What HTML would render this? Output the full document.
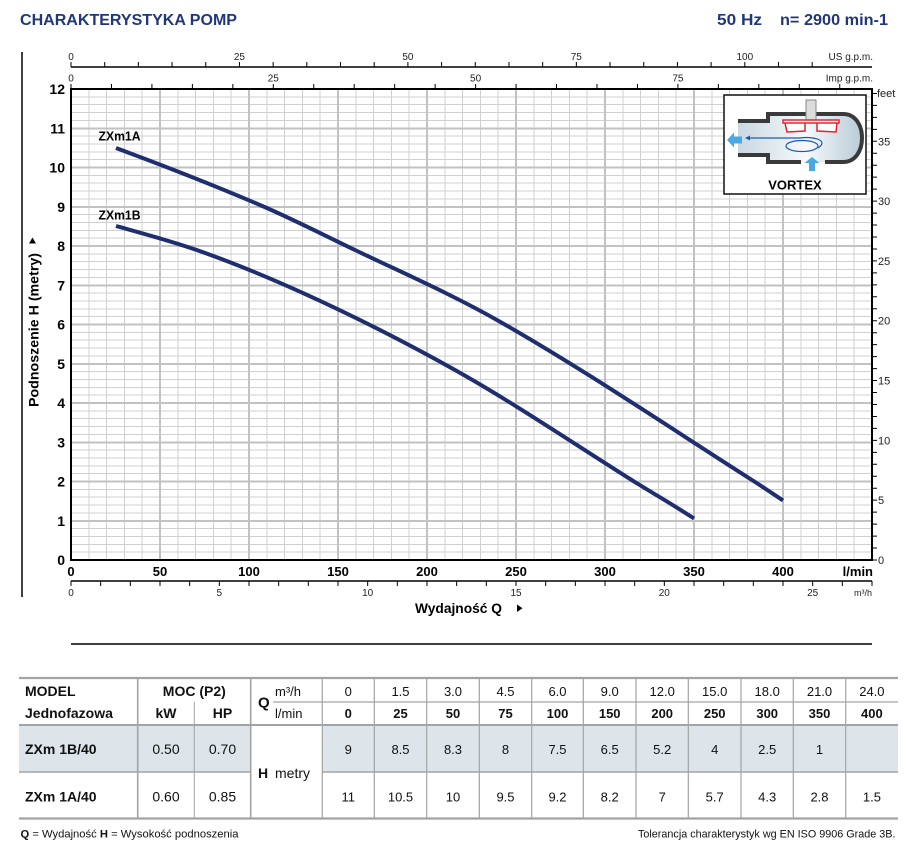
<!DOCTYPE html>
<html><head><meta charset="utf-8"><style>
html,body{margin:0;padding:0;background:#fff;}
svg{display:block;font-family:"Liberation Sans",Arial,sans-serif;}
</style></head><body>
<svg width="906" height="854" viewBox="0 0 906 854" xmlns="http://www.w3.org/2000/svg">
<defs>
<linearGradient id="cg" x1="0" x2="1" y1="0" y2="0">
<stop offset="0" stop-color="#c9d8e2"/><stop offset="0.55" stop-color="#f6f9fb"/><stop offset="1" stop-color="#b8cbd7"/>
</linearGradient>
</defs>
<!-- Title -->
<text x="20" y="25" font-size="16" font-weight="bold" fill="#22377a" textLength="217" lengthAdjust="spacingAndGlyphs">CHARAKTERYSTYKA POMP</text>
<text x="717" y="25" font-size="16" font-weight="bold" fill="#22377a" textLength="45" lengthAdjust="spacingAndGlyphs">50 Hz</text>
<text x="780" y="25" font-size="16" font-weight="bold" fill="#22377a" textLength="108" lengthAdjust="spacingAndGlyphs">n= 2900 min-1</text>

<!-- left vertical line -->
<line x1="22" y1="52" x2="22" y2="597" stroke="#000" stroke-width="1.5"/>

<!-- grid -->
<g shape-rendering="crispEdges">
<path stroke="#d0d0d0" stroke-width="1" fill="none" d="M88.8 89V560M106.6 89V560M124.4 89V560M142.2 89V560M177.8 89V560M195.6 89V560M213.4 89V560M231.2 89V560M266.8 89V560M284.6 89V560M302.4 89V560M320.2 89V560M355.8 89V560M373.6 89V560M391.4 89V560M409.2 89V560M444.8 89V560M462.6 89V560M480.4 89V560M498.2 89V560M533.8 89V560M551.6 89V560M569.4 89V560M587.2 89V560M622.8 89V560M640.6 89V560M658.4 89V560M676.2 89V560M711.8 89V560M729.6 89V560M747.4 89V560M765.2 89V560M800.8 89V560M818.6 89V560M836.4 89V560M854.2 89V560
M71 552.15H872M71 544.3H872M71 536.45H872M71 528.6H872M71 512.9H872M71 505.05H872M71 497.2H872M71 489.35H872M71 473.65H872M71 465.8H872M71 457.95H872M71 450.1H872M71 434.4H872M71 426.55H872M71 418.7H872M71 410.85H872M71 395.15H872M71 387.3H872M71 379.45H872M71 371.6H872M71 355.9H872M71 348.05H872M71 340.2H872M71 332.35H872M71 316.65H872M71 308.8H872M71 300.95H872M71 293.1H872M71 277.4H872M71 269.55H872M71 261.7H872M71 253.85H872M71 238.15H872M71 230.3H872M71 222.45H872M71 214.6H872M71 198.9H872M71 191.05H872M71 183.2H872M71 175.35H872M71 159.65H872M71 151.8H872M71 143.95H872M71 136.1H872M71 120.4H872M71 112.55H872M71 104.7H872M71 96.85H872"/>
<path stroke="#c2c2c2" stroke-width="2" fill="none" d="M160 89V560M249 89V560M338 89V560M427 89V560M516 89V560M605 89V560M694 89V560M783 89V560
M71 520.75H872M71 481.5H872M71 442.25H872M71 403H872M71 363.75H872M71 324.5H872M71 285.25H872M71 246H872M71 206.75H872M71 167.5H872M71 128.25H872"/>
</g>

<!-- plot frame -->
<rect x="71" y="89" width="801" height="471" fill="none" stroke="#000" stroke-width="2"/>

<!-- top US gpm axis -->
<line x1="71" y1="67" x2="872" y2="67" stroke="#000" stroke-width="1.5"/>
<path stroke="#000" stroke-width="1" d="M71 62V67M104.69 62V67M138.38 62V67M172.07 62V67M205.76 62V67M239.45 62V67M273.14 62V67M306.83 62V67M340.52 62V67M374.21 62V67M407.9 62V67M441.59 62V67M475.28 62V67M508.97 62V67M542.66 62V67M576.35 62V67M610.04 62V67M643.73 62V67M677.42 62V67M711.11 62V67M744.8 62V67M778.49 62V67M812.18 62V67"/>
<g font-size="10" fill="#222" text-anchor="middle">
<text x="71" y="60">0</text><text x="239.4" y="60">25</text><text x="407.9" y="60">50</text><text x="576.3" y="60">75</text><text x="744.8" y="60">100</text>
</g>
<text x="873" y="60" font-size="10" fill="#222" text-anchor="end">US g.p.m.</text>

<!-- Imp gpm axis -->
<path stroke="#000" stroke-width="1" d="M71 84V89M111.46 84V89M151.92 84V89M192.38 84V89M232.84 84V89M273.3 84V89M313.76 84V89M354.22 84V89M394.68 84V89M435.14 84V89M475.6 84V89M516.06 84V89M556.52 84V89M596.98 84V89M637.44 84V89M677.9 84V89M718.36 84V89M758.82 84V89M799.28 84V89M839.74 84V89"/>
<g font-size="10" fill="#222" text-anchor="middle">
<text x="71" y="81.5">0</text><text x="273.3" y="81.5">25</text><text x="475.6" y="81.5">50</text><text x="677.9" y="81.5">75</text>
</g>
<text x="873" y="81.5" font-size="10" fill="#222" text-anchor="end">Imp g.p.m.</text>

<!-- left y labels -->
<g font-size="14" font-weight="bold" fill="#000" text-anchor="end">
<text x="65" y="565">0</text><text x="65" y="525.75">1</text><text x="65" y="486.5">2</text><text x="65" y="447.25">3</text><text x="65" y="408">4</text><text x="65" y="368.75">5</text><text x="65" y="329.5">6</text><text x="65" y="290.25">7</text><text x="65" y="251">8</text><text x="65" y="211.75">9</text><text x="65" y="172.5">10</text><text x="65" y="133.25">11</text><text x="65" y="94">12</text>
</g>

<!-- y axis title -->
<text transform="translate(38.5,407) rotate(-90)" font-size="14" font-weight="bold" fill="#000" textLength="154" lengthAdjust="spacingAndGlyphs">Podnoszenie H (metry)</text>
<polygon points="29,243.5 36,243.5 32.5,237.5" fill="#000"/>

<!-- right feet axis -->
<path stroke="#000" stroke-width="1" d="M872 560h5M872 548.04h5M872 536.07h5M872 524.11h5M872 512.15h5M872 500.18h5M872 488.22h5M872 476.26h5M872 464.3h5M872 452.33h5M872 440.37h5M872 428.41h5M872 416.44h5M872 404.48h5M872 392.52h5M872 380.55h5M872 368.59h5M872 356.63h5M872 344.67h5M872 332.7h5M872 320.74h5M872 308.78h5M872 296.81h5M872 284.85h5M872 272.89h5M872 260.93h5M872 248.96h5M872 237h5M872 225.04h5M872 213.07h5M872 201.11h5M872 189.15h5M872 177.18h5M872 165.22h5M872 153.26h5M872 141.3h5M872 129.33h5M872 117.37h5M872 105.41h5M872 93.44h5"/>
<g font-size="11" fill="#222">
<text x="878" y="564">0</text><text x="878" y="504.2">5</text><text x="878" y="444.4">10</text><text x="878" y="384.6">15</text><text x="878" y="324.7">20</text><text x="878" y="264.9">25</text><text x="878" y="205.1">30</text><text x="878" y="145.3">35</text><text x="877" y="97">feet</text>
</g>

<!-- bottom l/min labels -->
<g font-size="13" font-weight="bold" fill="#000" text-anchor="middle">
<text x="71" y="576">0</text><text x="160" y="576">50</text><text x="249" y="576">100</text><text x="338" y="576">150</text><text x="427" y="576">200</text><text x="516" y="576">250</text><text x="605" y="576">300</text><text x="694" y="576">350</text><text x="783" y="576">400</text>
</g>
<text x="873" y="576" font-size="13" font-weight="bold" text-anchor="end">l/min</text>

<!-- m3/h axis -->
<line x1="71" y1="581" x2="872" y2="581" stroke="#000" stroke-width="1.5"/>
<path stroke="#000" stroke-width="1" d="M71 581V586M100.67 581V586M130.33 581V586M160 581V586M189.67 581V586M219.33 581V586M249 581V586M278.67 581V586M308.33 581V586M338 581V586M367.67 581V586M397.33 581V586M427 581V586M456.67 581V586M486.33 581V586M516 581V586M545.67 581V586M575.33 581V586M605 581V586M634.67 581V586M664.33 581V586M694 581V586M723.67 581V586M753.33 581V586M783 581V586M812.67 581V586M842.33 581V586M872 581V586"/>
<g font-size="10" fill="#222" text-anchor="middle">
<text x="71" y="596">0</text><text x="219.3" y="596">5</text><text x="367.7" y="596">10</text><text x="516" y="596">15</text><text x="664.3" y="596">20</text><text x="812.7" y="596">25</text>
</g>
<text x="872" y="596" font-size="9" fill="#222" text-anchor="end">m³/h</text>

<!-- x axis title -->
<text x="415" y="613" font-size="14" font-weight="bold" fill="#000" textLength="87" lengthAdjust="spacingAndGlyphs">Wydajność Q</text>
<polygon points="517,604.5 517,612 522.5,608.2" fill="#000"/>

<line x1="71" y1="644" x2="872" y2="644" stroke="#000" stroke-width="1.5"/>

<!-- curves -->
<path fill="none" stroke="#1e2e6e" stroke-width="4" d="M116 148 C164.5 166 212.2 184.5 260 205 C291.7 218.6 323.3 234.8 355 250 C403.3 273.2 451.7 294.2 500 321.7 C583.9 369.5 668.1 426.5 752 480 C762.4 486.7 772.6 493.6 783 500.5"/>
<path fill="none" stroke="#1e2e6e" stroke-width="4" d="M116 226 C143.4 233.5 170 240.7 196.7 250 C231.1 262 265.6 276.2 300 291.7 C351.7 315 403.3 341.1 455 370 C513.9 403 572.8 442.9 631.7 480 C652.5 493.1 673.2 504.8 694 518.5"/>
<text x="98.5" y="140.7" font-size="13" font-weight="bold" textLength="42" lengthAdjust="spacingAndGlyphs">ZXm1A</text>
<text x="98.5" y="219.5" font-size="13" font-weight="bold" textLength="42" lengthAdjust="spacingAndGlyphs">ZXm1B</text>

<!-- vortex icon -->
<rect x="724" y="95" width="142" height="99" fill="#fff" stroke="#111" stroke-width="1.5"/>
<path d="M738 121 H768 V114 H843 C856 114 862 126 862 138 C862 150 856 162 843 162 H768 V155 H738 Z" fill="url(#cg)"/>
<path d="M738 121 H768 V114 H843 C856 114 862 126 862 138 C862 150 856 162 843 162 H825" fill="none" stroke="#3a3a3a" stroke-width="4"/>
<path d="M738 155 H768 V162 H801" fill="none" stroke="#3a3a3a" stroke-width="4"/>
<rect x="806" y="100" width="10" height="22" fill="#dcdcdc" stroke="#888" stroke-width="1"/>
<path d="M783 120 H839 V123 H783 Z M785 123 H805 V131 L787 132 Z M817 123 H837 L836 132 L817 131 Z" fill="#fff" stroke="#e0262e" stroke-width="1.5"/>
<path d="M818 148 C830 140 812 136 800 138 H748" fill="none" stroke="#1a5cb0" stroke-width="1.2"/>
<polygon points="745,138 750,135.5 750,140.5" fill="#1a5cb0"/>
<ellipse cx="802" cy="146" rx="16" ry="5.5" fill="none" stroke="#1a5cb0" stroke-width="1.2"/>
<polygon points="727,140 734,132.5 734,136.5 742,136.5 742,143.5 734,143.5 734,147.5" fill="#4aa9e2"/>
<polygon points="812,157 819.5,163 815,163 815,171 809,171 809,163 804.5,163" fill="#4aa9e2"/>
<text x="795" y="189.5" font-size="13" font-weight="bold" text-anchor="middle">VORTEX</text>

<!-- table -->
<rect x="19" y="725" width="231.7" height="47" fill="#dde5ea"/>
<rect x="322.3" y="725" width="575.7" height="47" fill="#dde5ea"/>
<g stroke="#a3a3a3" fill="none">
<line x1="19" y1="678" x2="898" y2="678" stroke-width="2.2"/>
<line x1="19" y1="725" x2="898" y2="725" stroke-width="2"/>
<line x1="19" y1="818.5" x2="898" y2="818.5" stroke-width="2.2"/>
<line x1="19" y1="772" x2="250.7" y2="772" stroke-width="1.5"/>
<line x1="322.3" y1="772" x2="898" y2="772" stroke-width="1.5"/>
<line x1="273" y1="702" x2="898" y2="702" stroke-width="1.2"/>
<line x1="137.7" y1="678" x2="137.7" y2="818" stroke-width="1.6"/>
<line x1="194.3" y1="702" x2="194.3" y2="818" stroke-width="1"/>
<line x1="250.7" y1="678" x2="250.7" y2="818" stroke-width="1.6"/>
<path stroke-width="1.2" d="M322.3 678V818M374.3 678V818M426.7 678V818M479.3 678V818M531.7 678V818M583.3 678V818M636 678V818M688.3 678V818M741 678V818M793.3 678V818M845.7 678V818"/>
</g>
<g font-size="14" font-weight="bold" fill="#111">
<text x="25" y="696">MODEL</text>
<text x="25" y="718">Jednofazowa</text>
<text x="194.3" y="696" text-anchor="middle">MOC (P2)</text>
<text x="166" y="718" text-anchor="middle">kW</text>
<text x="222.5" y="718" text-anchor="middle">HP</text>
<text x="258" y="707.5" font-size="15">Q</text>
<text x="25" y="754">ZXm 1B/40</text>
<text x="25" y="801.5">ZXm 1A/40</text>
<text x="258" y="778">H</text>
</g>
<g font-size="14" fill="#111">
<text x="275" y="696" font-size="13">m³/h</text>
<text x="275" y="718" font-size="13">l/min</text>
<text x="275" y="778">metry</text>
<text x="166" y="754" text-anchor="middle">0.50</text>
<text x="222.5" y="754" text-anchor="middle">0.70</text>
<text x="166" y="801.5" text-anchor="middle">0.60</text>
<text x="222.5" y="801.5" text-anchor="middle">0.85</text>
</g>
<g font-size="13" fill="#111" text-anchor="middle">
<text x="348.3" y="696">0</text><text x="400.5" y="696">1.5</text><text x="453" y="696">3.0</text><text x="505.5" y="696">4.5</text><text x="557.5" y="696">6.0</text><text x="609.7" y="696">9.0</text><text x="662.2" y="696">12.0</text><text x="714.7" y="696">15.0</text><text x="767.2" y="696">18.0</text><text x="819.5" y="696">21.0</text><text x="871.9" y="696">24.0</text>
</g>
<g font-size="13" font-weight="bold" fill="#111" text-anchor="middle">
<text x="348.3" y="718">0</text><text x="400.5" y="718">25</text><text x="453" y="718">50</text><text x="505.5" y="718">75</text><text x="557.5" y="718">100</text><text x="609.7" y="718">150</text><text x="662.2" y="718">200</text><text x="714.7" y="718">250</text><text x="767.2" y="718">300</text><text x="819.5" y="718">350</text><text x="871.9" y="718">400</text>
</g>
<g font-size="13" fill="#111" text-anchor="middle">
<text x="348.3" y="754">9</text><text x="400.5" y="754">8.5</text><text x="453" y="754">8.3</text><text x="505.5" y="754">8</text><text x="557.5" y="754">7.5</text><text x="609.7" y="754">6.5</text><text x="662.2" y="754">5.2</text><text x="714.7" y="754">4</text><text x="767.2" y="754">2.5</text><text x="819.5" y="754">1</text>
<text x="348.3" y="801.5">11</text><text x="400.5" y="801.5">10.5</text><text x="453" y="801.5">10</text><text x="505.5" y="801.5">9.5</text><text x="557.5" y="801.5">9.2</text><text x="609.7" y="801.5">8.2</text><text x="662.2" y="801.5">7</text><text x="714.7" y="801.5">5.7</text><text x="767.2" y="801.5">4.3</text><text x="819.5" y="801.5">2.8</text><text x="871.9" y="801.5">1.5</text>
</g>

<!-- footer -->
<text x="20.5" y="837.5" font-size="11" fill="#111" textLength="218" lengthAdjust="spacingAndGlyphs"><tspan font-weight="bold">Q</tspan> = Wydajność   <tspan font-weight="bold">H</tspan> = Wysokość podnoszenia</text>
<text x="638" y="837.5" font-size="11" fill="#111" textLength="257.5" lengthAdjust="spacingAndGlyphs">Tolerancja charakterystyk wg EN ISO 9906 Grade 3B.</text>
</svg>
</body></html>
